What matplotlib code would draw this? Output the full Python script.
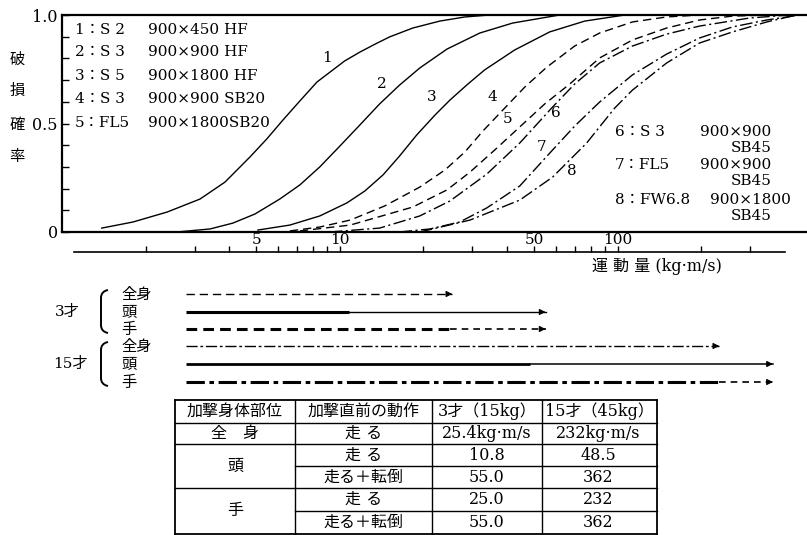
import numpy as np
import matplotlib
matplotlib.use("Agg")
import matplotlib.pyplot as plt
from matplotlib.path import Path
from matplotlib.patches import PathPatch
from matplotlib.ticker import NullLocator

plt.rcParams['font.family'] = ['DejaVu Serif', 'Noto Sans CJK JP']

W, H = 807, 535

# failure probability curves: momentum (kg m/s) vs probability
mom1 = [1.39, 1.80, 2.39, 3.14, 3.86, 4.75, 5.46, 6.24, 7.18, 8.27, 9.44, 10.4, 11.8, 13.4, 15.1, 18.3, 22.9, 28.2, 34.6]
prob1 = [0.018, 0.046, 0.092, 0.152, 0.230, 0.346, 0.429, 0.516, 0.604, 0.691, 0.747, 0.788, 0.829, 0.866, 0.899, 0.940, 0.972, 0.991, 1.0]
mom2 = [2.59, 3.41, 4.12, 4.95, 6.08, 7.18, 8.47, 10.0, 11.8, 13.9, 16.4, 19.4, 24.3, 31.9, 41.9, 61.8]
prob2 = [0.0, 0.014, 0.041, 0.083, 0.152, 0.217, 0.300, 0.396, 0.493, 0.590, 0.677, 0.756, 0.843, 0.917, 0.963, 1.0]
mom3 = [5.07, 6.61, 8.47, 10.6, 12.3, 14.3, 16.4, 18.9, 22.0, 24.9, 28.9, 33.2, 42.6, 56.9, 76.1, 106]
prob3 = [0.009, 0.032, 0.074, 0.134, 0.189, 0.263, 0.350, 0.447, 0.539, 0.608, 0.682, 0.747, 0.839, 0.922, 0.972, 1.0]
mom4 = [6.61, 8.47, 10.9, 14.5, 19.4, 23.9, 28.2, 32.7, 38.6, 46.3, 55.6, 70.0, 86.1, 113, 150, 197]
prob4 = [0.005, 0.023, 0.055, 0.120, 0.207, 0.286, 0.369, 0.465, 0.562, 0.668, 0.760, 0.857, 0.917, 0.968, 0.991, 1.0]
mom5 = [7.18, 10.9, 18.3, 24.3, 29.4, 36.1, 44.4, 54.6, 67.2, 86.1, 113, 150, 197, 259, 352]
prob5 = [0.005, 0.032, 0.115, 0.194, 0.276, 0.378, 0.484, 0.590, 0.682, 0.802, 0.885, 0.940, 0.977, 0.995, 1.0]
mom6 = [9.20, 13.9, 19.4, 24.9, 33.8, 44.4, 58.3, 70.0, 86.1, 113, 150, 197, 298, 415]
prob6 = [0.0, 0.018, 0.074, 0.143, 0.267, 0.410, 0.576, 0.682, 0.779, 0.857, 0.912, 0.949, 0.986, 1.0]
mom7 = [16.4, 21.1, 27.0, 33.8, 44.4, 58.3, 70.0, 86.1, 113, 150, 197, 259, 344, 452]
prob7 = [0.0, 0.014, 0.046, 0.111, 0.212, 0.378, 0.488, 0.599, 0.724, 0.820, 0.894, 0.945, 0.977, 1.0]
mom8 = [19.4, 29.4, 44.4, 58.3, 77.3, 97.5, 113, 150, 197, 259, 344, 440]
prob8 = [0.0, 0.055, 0.147, 0.253, 0.410, 0.571, 0.654, 0.779, 0.871, 0.922, 0.968, 1.0]

curve_tags = ['1', '2', '3', '4', '5', '6', '7', '8']
tag_mom = [8.98, 14.2, 21.4, 35.5, 40.2, 59.8, 53.3, 68.3]
tag_prob = [0.80, 0.68, 0.62, 0.62, 0.52, 0.55, 0.39, 0.28]

legend_left = [('1：S 2', '900×450 HF'), ('2：S 3', '900×900 HF'), ('3：S 5', '900×1800 HF'),
               ('4：S 3', '900×900 SB20'), ('5：FL5', '900×1800SB20')]
legend_right = [('6：S 3', '900×900', 'SB45'), ('7：FL5', '900×900', 'SB45'),
                ('8：FW6.8', '900×1800', 'SB45')]

xticks_major = [5, 10, 50, 100]
xticks_scale = [2, 3, 4, 5, 6, 7, 8, 9, 10, 20, 30, 40, 50, 60, 70, 80, 90, 100, 200, 300]

# table: momentum just before impact
tbl_header = ['加撃身体部位', '加撃直前の動作', '3才（15kg）', '15才（45kg）']
body_part = ['全　身', '頭', '手']
action = ['走 る', '走 る', '走る＋転倒', '走 る', '走る＋転倒']
mom_age3 = [25.4, 10.8, 55.0, 25.0, 55.0]
mom_age15 = [232, 48.5, 362, 232, 362]
ages = ['3才', '15才']
arrow_start = 2.8

fig = plt.figure(figsize=(W / 100, H / 100), dpi=100)
bg = fig.add_axes([0, 0, 1, 1])
bg.set_xlim(0, W)
bg.set_ylim(H, 0)
bg.axis('off')
bg.set_zorder(5)

# ---- main chart
ax = fig.add_axes([62 / W, 1 - 232 / H, (W - 62) / W, 217 / H])
dash = (0, (6, 3.5))
dashdot = (0, (9, 2.5, 1.5, 2.5))
curves = [(mom1, prob1, '-'), (mom2, prob2, '-'), (mom3, prob3, '-'),
          (mom4, prob4, dash), (mom5, prob5, dash),
          (mom6, prob6, dashdot), (mom7, prob7, dashdot), (mom8, prob8, dashdot)]
for m, p, ls in curves:
    ax.plot(m, p, color='k', lw=1.0, linestyle=ls)
for t, m, p in zip(curve_tags, tag_mom, tag_prob):
    ax.text(m, p, t, fontsize=11, ha='center', va='center')

ax.set_xscale('log')
ax.set_xlim(1, 480)
ax.set_ylim(0, 1)
ax.spines['right'].set_visible(False)
for s in ['left', 'top', 'bottom']:
    ax.spines[s].set_linewidth(1.6)
ax.set_yticks([0, 0.5, 1.0])
ax.set_yticklabels(['0', '0.5', '1.0'])
ax.set_yticks(np.arange(0.1, 1.0, 0.1), minor=True)
ax.tick_params(axis='y', which='both', direction='in', length=5, width=1, labelsize=11.5, pad=3)
ax.set_xticks(xticks_major)
ax.set_xticklabels([str(v) for v in xticks_major])
ax.xaxis.set_minor_locator(NullLocator())
ax.tick_params(axis='x', length=0, pad=1, labelsize=11)

sec = ax.secondary_xaxis(-20 / 217)
sec.set_xticks(xticks_scale)
sec.xaxis.set_minor_locator(NullLocator())
sec.tick_params(axis='x', direction='in', length=4, width=1, labelbottom=False)
sec.spines['bottom'].set_linewidth(1.2)
sec.spines['bottom'].set_bounds(1.1, 400)

for ch, y in zip('破損確率', [60, 91, 125, 157]):
    bg.text(17, y, ch, fontsize=11, ha='center', va='center')

for (a, b), y in zip(legend_left, [30, 52, 76, 99, 123]):
    bg.text(75, y, a, fontsize=11, va='center')
    bg.text(148, y, b, fontsize=11, va='center')
for (a, b, c), y in zip(legend_right, [132, 165, 200]):
    bg.text(615, y, a, fontsize=11, va='center')
    bg.text(700 if b == '900×900' else 710, y, b, fontsize=11, va='center')
    bg.text(772, y + 16, c, fontsize=11, va='center', ha='right')

bg.text(592, 266, '運 動 量 (kg·m/s)', fontsize=11.5, va='center')

# ---- arrows for momentum ranges
aa = fig.add_axes([62 / W, 1 - 392 / H, (W - 62) / W, 110 / H])
aa.set_xscale('log')
aa.set_xlim(1, 480)
aa.set_ylim(392, 282)
aa.axis('off')

row_y = [[294, 312, 329], [346, 364, 382]]
run_styles = [[(dash, 1.0), ('-', 2.2), ((0, (3.5, 2)), 2.2)],
              [((0, (8, 2, 2, 2)), 1.0), ('-', 2.0), ((0, (6, 1.5, 1.5, 1.5)), 2.2)]]
fall_styles = [[None, ('-', 1.0), ((0, (4, 3)), 1.2)],
               [None, ('-', 1.1), ((0, (4, 3)), 1.2)]]
for k, vals in enumerate([mom_age3, mom_age15]):
    runs = [vals[0], vals[1], vals[3]]
    falls = [None, vals[2], vals[4]]
    for j in range(3):
        y = row_y[k][j]
        ls, lw = run_styles[k][j]
        aa.plot([arrow_start, runs[j]], [y, y], color='k', ls=ls, lw=lw, solid_capstyle='butt')
        end = runs[j]
        if falls[j] is not None:
            ls2, lw2 = fall_styles[k][j]
            aa.plot([runs[j], falls[j]], [y, y], color='k', ls=ls2, lw=lw2)
            end = falls[j]
        aa.annotate('', xy=(end, y), xytext=(end / 1.04, y),
                    arrowprops=dict(arrowstyle='-|>', color='k', lw=0.8,
                                    mutation_scale=9, shrinkA=0, shrinkB=0))

for k, age in enumerate(ages):
    y0, y1 = row_y[k][0] - 4, row_y[k][2] + 4
    bg.text(67 if k == 0 else 70, (y0 + y1) / 2, age, fontsize=11, ha='center', va='center')
    verts = [(108, y0), (103, y0 + 1), (101, y0 + 4), (101, y0 + 8), (101, y1 - 8),
             (101, y1 - 4), (103, y1 - 1), (108, y1)]
    codes = [Path.MOVETO, Path.CURVE4, Path.CURVE4, Path.CURVE4, Path.LINETO,
             Path.CURVE4, Path.CURVE4, Path.CURVE4]
    bg.add_patch(PathPatch(Path(verts, codes), fill=False, lw=1.4, color='k'))
    for j, part in enumerate(['全身', '頭', '手']):
        bg.text(121, row_y[k][j] + 1, part, fontsize=11, va='center')

# ---- table
col_x = [175, 295, 432, 542, 657]
row_e = [400, 423, 444, 466, 488, 511, 534]
for x in col_x:
    bg.plot([x, x], [row_e[0], row_e[-1]], color='k', lw=1.3 if x in (175, 657) else 1.0)
for i, y in enumerate(row_e):
    x0 = col_x[1] if i in (3, 5) else col_x[0]
    bg.plot([x0, col_x[-1]], [y, y], color='k', lw=1.3 if i in (0, 6) else 1.0)

centers = [(a + b) / 2 for a, b in zip(col_x[:-1], col_x[1:])]
for c, t in zip(centers, tbl_header):
    bg.text(c, 411.5, t, fontsize=11.5, ha='center', va='center')
mid = [(a + b) / 2 for a, b in zip(row_e[1:-1], row_e[2:])]
bg.text(centers[0], mid[0], body_part[0], fontsize=11.5, ha='center', va='center')
bg.text(centers[0], row_e[3], body_part[1], fontsize=11.5, ha='center', va='center')
bg.text(centers[0], row_e[5], body_part[2], fontsize=11.5, ha='center', va='center')
for i in range(5):
    bg.text(centers[1], mid[i], action[i], fontsize=11.5, ha='center', va='center')
    s3 = '{:.1f}'.format(mom_age3[i])
    s15 = '{:g}'.format(mom_age15[i])
    if i == 0:
        s3 += 'kg·m/s'
        s15 += 'kg·m/s'
    bg.text(centers[2], mid[i], s3, fontsize=11.5, ha='center', va='center')
    bg.text(598, mid[i], s15, fontsize=11.5, ha='center', va='center')

fig.savefig('out.png', dpi=100)
